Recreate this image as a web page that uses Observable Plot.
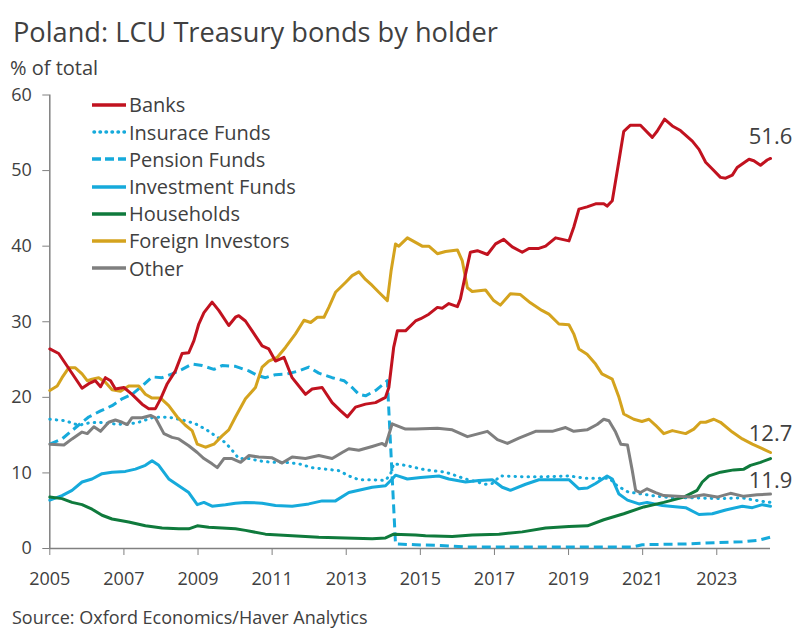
<!DOCTYPE html>
<html><head><meta charset="utf-8">
<script src="https://cdn.jsdelivr.net/npm/d3@7"></script>
<script src="https://cdn.jsdelivr.net/npm/@observablehq/plot@0.6"></script>
<style>
body{margin:0;background:#fff;font-family:"Open Sans",sans-serif;color:#404040}
#wrap{position:relative;width:800px;height:640px;overflow:hidden}
#title{position:absolute;left:13px;top:13.5px;font-size:27.2px;line-height:36px;white-space:nowrap}
#chart{position:absolute;left:0;top:58px}
#unit{position:absolute;left:10px;top:55px;font-size:20px;line-height:26px;white-space:nowrap}
#legend{position:absolute;left:92px;top:91.4px;font-size:20px}
#legend .row{display:flex;align-items:center;height:27.2px;white-space:nowrap}
#legend svg{display:block;margin-right:3px}
#src{position:absolute;left:12px;top:606px;font-size:18px;line-height:22px;white-space:nowrap}
</style></head>
<body><div id="wrap">
<div id="title">Poland: LCU Treasury bonds by holder</div>
<div id="chart"></div>
<div id="unit">% of total</div>
<div id="legend"></div>
<div id="src">Source: Oxford Economics/Haver Analytics</div>
</div>
<script>
const xTicks = [2005,2007,2009,2011,2013,2015,2017,2019,2021,2023];
const yTicks = [0,10,20,30,40,50,60];
const seriesNames = ["Banks","Insurace Funds","Pension Funds","Investment Funds","Households","Foreign Investors","Other"];

const banks = [[2005.00,26.4],[2005.24,25.8],[2005.87,21.2],[2006.05,21.8],[2006.23,22.2],[2006.37,21.4],[2006.50,22.6],[2006.64,22.2],[2006.77,21.1],[2007.00,21.3],[2007.22,20.4],[2007.49,19.1],[2007.67,18.5],[2007.85,18.5],[2007.99,19.8],[2008.17,21.8],[2008.39,23.5],[2008.57,25.8],[2008.75,25.9],[2008.89,27.5],[2009.02,29.7],[2009.16,31.2],[2009.38,32.6],[2009.56,31.5],[2009.83,29.5],[2010.01,30.6],[2010.10,30.8],[2010.28,30.1],[2010.46,28.8],[2010.73,26.8],[2010.91,26.4],[2011.09,24.8],[2011.32,25.3],[2011.54,22.6],[2011.90,20.4],[2012.08,21.1],[2012.35,21.3],[2012.62,19.3],[2012.85,18.2],[2013.03,17.4],[2013.25,18.7],[2013.52,19.1],[2013.79,19.3],[2014.06,20.0],[2014.15,21.3],[2014.28,26.6],[2014.38,28.8],[2014.60,28.8],[2014.87,30.1],[2015.01,30.4],[2015.23,31.0],[2015.46,31.9],[2015.59,31.8],[2015.77,32.4],[2016.00,32.0],[2016.08,33.0],[2016.22,36.3],[2016.35,39.2],[2016.54,39.4],[2016.81,38.9],[2017.03,40.3],[2017.25,40.9],[2017.48,39.9],[2017.75,39.2],[2017.93,39.7],[2018.20,39.7],[2018.38,40.0],[2018.65,41.1],[2019.01,40.7],[2019.14,42.5],[2019.28,44.9],[2019.50,45.2],[2019.73,45.6],[2019.95,45.6],[2020.04,45.3],[2020.18,46.0],[2020.36,51.3],[2020.49,55.2],[2020.67,56.0],[2020.94,56.0],[2021.26,54.4],[2021.39,55.2],[2021.59,56.8],[2021.80,55.9],[2022.02,55.3],[2022.34,53.9],[2022.52,52.8],[2022.70,51.1],[2022.88,50.2],[2023.10,49.1],[2023.24,49.0],[2023.42,49.4],[2023.55,50.4],[2023.87,51.5],[2024.00,51.3],[2024.18,50.7],[2024.36,51.4],[2024.45,51.6]];

const insurance = [[2005.00,17.1],[2005.42,16.9],[2005.78,16.3],[2006.05,16.6],[2006.32,16.7],[2006.68,16.5],[2007.04,16.4],[2007.40,16.7],[2007.76,17.3],[2008.03,17.4],[2008.30,17.3],[2008.66,16.9],[2008.93,16.5],[2009.20,15.8],[2009.47,14.9],[2009.74,14.0],[2009.92,13.0],[2010.10,11.9],[2010.37,11.9],[2010.64,11.6],[2011.00,11.4],[2011.36,11.4],[2011.72,11.2],[2012.08,10.7],[2012.44,10.5],[2012.80,10.3],[2013.07,9.6],[2013.34,9.1],[2013.70,9.1],[2014.06,9.0],[2014.20,9.9],[2014.28,11.2],[2014.60,11.0],[2015.14,10.4],[2015.68,10.1],[2016.22,9.2],[2016.76,8.5],[2016.94,8.6],[2017.16,9.6],[2017.75,9.5],[2018.38,9.5],[2019.01,9.6],[2019.46,9.3],[2020.10,9.3],[2020.31,8.3],[2020.60,7.5],[2020.85,7.3],[2021.26,7.0],[2021.80,6.7],[2022.43,6.7],[2023.06,6.6],[2023.69,6.7],[2024.14,6.3],[2024.45,6.1]];

const pension = [[2005.00,13.8],[2005.33,14.5],[2005.60,15.6],[2005.87,16.7],[2006.05,17.4],[2006.37,18.2],[2006.68,18.9],[2006.95,19.8],[2007.22,20.4],[2007.49,21.5],[2007.76,22.7],[2008.03,22.6],[2008.30,23.1],[2008.57,23.7],[2008.84,24.4],[2009.11,24.2],[2009.43,23.7],[2009.65,24.2],[2010.01,24.1],[2010.37,23.5],[2010.60,22.9],[2010.82,22.6],[2011.09,23.0],[2011.41,23.1],[2011.72,23.5],[2011.99,24.0],[2012.26,23.2],[2012.62,22.6],[2012.94,22.2],[2013.16,21.3],[2013.34,20.4],[2013.52,20.2],[2013.79,20.9],[2014.11,22.2],[2014.33,0.6],[2014.87,0.5],[2015.55,0.4],[2016.27,0.2],[2017.16,0.2],[2018.51,0.2],[2019.86,0.2],[2020.72,0.2],[2020.99,0.5],[2022.16,0.6],[2023.06,0.8],[2023.69,0.9],[2024.14,1.1],[2024.45,1.5]];

const investment = [[2005.00,6.4],[2005.33,7.0],[2005.60,7.7],[2005.87,8.8],[2006.14,9.2],[2006.41,9.9],[2006.68,10.1],[2007.04,10.2],[2007.31,10.5],[2007.58,11.0],[2007.76,11.6],[2007.94,11.0],[2008.21,9.2],[2008.48,8.3],[2008.75,7.4],[2008.98,5.8],[2009.16,6.1],[2009.38,5.6],[2009.74,5.8],[2010.01,6.0],[2010.28,6.1],[2010.73,6.0],[2011.09,5.7],[2011.54,5.6],[2011.99,5.9],[2012.35,6.3],[2012.71,6.3],[2013.07,7.4],[2013.34,7.7],[2013.70,8.1],[2014.06,8.3],[2014.24,9.2],[2014.33,9.7],[2014.65,9.2],[2015.01,9.4],[2015.50,9.6],[2015.77,9.2],[2016.22,8.8],[2016.58,9.0],[2016.94,9.1],[2017.21,8.1],[2017.43,7.7],[2017.84,8.5],[2018.20,9.1],[2018.65,9.1],[2019.01,9.1],[2019.28,7.9],[2019.51,8.0],[2019.73,8.6],[2020.04,9.6],[2020.18,9.2],[2020.36,7.2],[2020.59,6.4],[2020.90,5.9],[2021.12,6.1],[2021.53,5.7],[2022.16,5.4],[2022.52,4.5],[2022.88,4.6],[2023.24,5.1],[2023.69,5.6],[2023.96,5.4],[2024.23,5.8],[2024.45,5.6]];

const households = [[2005.00,6.8],[2005.33,6.6],[2005.60,6.1],[2005.87,5.8],[2006.14,5.2],[2006.41,4.4],[2006.68,3.9],[2007.13,3.5],[2007.58,3.0],[2008.03,2.7],[2008.48,2.6],[2008.75,2.6],[2008.98,3.0],[2009.29,2.8],[2009.65,2.7],[2010.01,2.6],[2010.28,2.4],[2010.82,1.9],[2011.54,1.7],[2012.26,1.5],[2012.98,1.4],[2013.70,1.3],[2014.06,1.4],[2014.28,1.9],[2014.87,1.8],[2015.14,1.7],[2015.86,1.6],[2016.40,1.8],[2017.12,1.9],[2017.75,2.2],[2018.38,2.7],[2019.01,2.9],[2019.51,3.0],[2019.95,3.8],[2020.49,4.6],[2021.03,5.5],[2021.57,6.1],[2022.11,6.8],[2022.47,7.7],[2022.61,8.8],[2022.79,9.6],[2023.10,10.1],[2023.46,10.4],[2023.73,10.5],[2023.91,11.0],[2024.18,11.4],[2024.45,11.9]];

const foreign = [[2005.00,20.9],[2005.20,21.5],[2005.33,22.6],[2005.51,23.9],[2005.69,23.9],[2005.87,23.1],[2006.01,22.2],[2006.14,22.4],[2006.32,22.6],[2006.50,22.0],[2006.68,21.0],[2006.91,20.8],[2007.13,21.5],[2007.40,21.5],[2007.58,20.4],[2007.76,19.9],[2007.99,19.9],[2008.21,18.9],[2008.44,17.4],[2008.66,16.3],[2008.84,15.6],[2008.98,13.8],[2009.20,13.4],[2009.43,13.8],[2009.65,14.9],[2009.83,15.7],[2010.01,17.4],[2010.28,19.8],[2010.55,21.3],[2010.73,24.0],[2010.91,24.8],[2011.14,25.3],[2011.36,26.6],[2011.63,28.4],[2011.86,30.2],[2012.04,29.9],[2012.22,30.6],[2012.40,30.6],[2012.53,31.9],[2012.71,33.9],[2012.98,35.2],[2013.16,36.1],[2013.34,36.6],[2013.52,35.6],[2013.70,34.8],[2013.88,33.9],[2014.11,32.8],[2014.21,36.7],[2014.33,40.3],[2014.42,40.0],[2014.65,41.1],[2014.87,40.5],[2015.05,40.0],[2015.23,40.0],[2015.46,39.0],[2015.68,39.3],[2016.00,39.5],[2016.13,38.1],[2016.27,34.5],[2016.40,34.0],[2016.76,34.2],[2016.98,32.8],[2017.16,32.2],[2017.43,33.7],[2017.70,33.6],[2017.97,32.5],[2018.28,31.5],[2018.47,31.0],[2018.74,29.7],[2019.01,29.6],[2019.14,28.4],[2019.28,26.4],[2019.50,25.7],[2019.73,24.4],[2019.90,23.1],[2020.18,22.4],[2020.36,20.0],[2020.49,17.8],[2020.76,17.1],[2020.98,16.8],[2021.17,17.1],[2021.35,16.3],[2021.57,15.2],[2021.80,15.6],[2022.16,15.2],[2022.38,15.8],[2022.56,16.7],[2022.70,16.7],[2022.92,17.1],[2023.10,16.7],[2023.42,15.4],[2023.69,14.5],[2023.96,13.8],[2024.23,13.2],[2024.45,12.7]];

const other = [[2005.00,13.8],[2005.38,13.7],[2005.60,14.5],[2005.87,15.4],[2006.01,15.2],[2006.19,16.1],[2006.37,15.5],[2006.59,16.7],[2006.77,17.0],[2006.95,16.7],[2007.09,16.4],[2007.22,17.3],[2007.49,17.3],[2007.72,17.6],[2007.85,17.3],[2008.08,15.2],[2008.30,14.7],[2008.48,14.5],[2008.75,13.6],[2008.98,12.7],[2009.16,11.9],[2009.38,11.2],[2009.52,10.7],[2009.70,11.9],[2009.92,11.9],[2010.15,11.4],[2010.37,12.3],[2010.64,12.1],[2011.00,12.0],[2011.27,11.3],[2011.54,12.1],[2011.90,11.9],[2012.26,12.3],[2012.62,11.9],[2012.89,12.7],[2013.07,13.2],[2013.34,13.0],[2013.70,13.5],[2013.97,13.9],[2014.06,13.6],[2014.24,16.5],[2014.60,15.8],[2014.87,15.8],[2015.46,15.9],[2015.86,15.7],[2016.27,14.8],[2016.81,15.5],[2017.08,14.4],[2017.35,13.9],[2017.66,14.6],[2018.11,15.5],[2018.56,15.5],[2018.92,16.0],[2019.14,15.5],[2019.50,15.7],[2019.77,16.4],[2019.95,17.1],[2020.09,16.9],[2020.27,15.4],[2020.41,13.8],[2020.59,13.7],[2020.72,10.3],[2020.81,7.7],[2020.94,7.4],[2021.12,7.9],[2021.35,7.4],[2021.57,7.0],[2021.93,6.9],[2022.29,6.8],[2022.65,7.1],[2023.01,6.8],[2023.37,7.3],[2023.73,6.9],[2024.09,7.1],[2024.45,7.2]];

const BLUE = "#16AADB";
const styles = [
  {name: seriesNames[2], data: pension, stroke: BLUE, dash: "9,5", cap: "butt"},
  {name: seriesNames[1], data: insurance, stroke: BLUE, dash: "0.5,6", cap: "round"},
  {name: seriesNames[3], data: investment, stroke: BLUE, dash: null, cap: "round"},
  {name: seriesNames[4], data: households, stroke: "#0F7A3C", dash: null, cap: "round"},
  {name: seriesNames[6], data: other, stroke: "#7F7F7F", dash: null, cap: "round"},
  {name: seriesNames[5], data: foreign, stroke: "#D4A31E", dash: null, cap: "round"},
  {name: seriesNames[0], data: banks, stroke: "#C1121F", dash: null, cap: "round"}
];

const lineMarks = styles.map(s => Plot.line(s.data.map(([year, value]) => ({year, value})), {
  x: "year", y: "value", stroke: s.stroke, strokeWidth: 3,
  strokeDasharray: s.dash || undefined, strokeLinecap: s.cap, strokeLinejoin: "round"
}));

const endLabels = [
  {data: banks, dy: -22},
  {data: foreign, dy: -19},
  {data: households, dy: 22}
];
const labelMarks = endLabels.map(l => {
  const [year, value] = l.data[l.data.length - 1];
  return Plot.text([{year, value}], {x: "year", y: "value", text: d => d.value.toFixed(1),
    dy: l.dy, fontSize: 22, fill: "#404040", textAnchor: "middle"});
});

const chart = Plot.plot({
  width: 800, height: 540,
  marginTop: 36.5, marginBottom: 50, marginLeft: 49.3, marginRight: 30,
  style: {fontFamily: "Open Sans, sans-serif", fontSize: "18px", color: "#404040", background: "transparent", overflow: "visible"},
  x: {domain: [2005, 2024.45]},
  y: {domain: [0, 60]},
  marks: [
    Plot.axisX({ticks: xTicks, tickFormat: d => String(d), tickSize: 7, tickPadding: 17, stroke: "#808080", fill: "#404040", label: null, fontSize: 18}),
    Plot.axisY({ticks: yTicks, tickSize: 7, tickPadding: 11, stroke: "#808080", fill: "#404040", label: null, fontSize: 18}),
    Plot.ruleY([0], {stroke: "#808080", strokeWidth: 1.5}),
    Plot.ruleX([2005], {y1: 0, y2: 60, stroke: "#808080", strokeWidth: 1.5}),
    ...lineMarks,
    ...labelMarks
  ]
});
document.getElementById("chart").append(chart);

// legend (HTML overlay)
const legendStyle = {
  "Banks": {stroke: "#C1121F", dash: null, cap: "butt"},
  "Insurace Funds": {stroke: BLUE, dash: "0.5,5.5", cap: "round"},
  "Pension Funds": {stroke: BLUE, dash: "9,4", cap: "butt"},
  "Investment Funds": {stroke: BLUE, dash: null, cap: "butt"},
  "Households": {stroke: "#0F7A3C", dash: null, cap: "butt"},
  "Foreign Investors": {stroke: "#D4A31E", dash: null, cap: "butt"},
  "Other": {stroke: "#7F7F7F", dash: null, cap: "butt"}
};
const legend = document.getElementById("legend");
seriesNames.forEach(name => {
  const st = legendStyle[name];
  const row = document.createElement("div");
  row.className = "row";
  row.innerHTML = `<svg width="34" height="10"><line x1="${st.cap === 'round' ? 2 : 0}" y1="5" x2="34" y2="5" stroke="${st.stroke}" stroke-width="3.5" ${st.dash ? `stroke-dasharray="${st.dash}"` : ""} stroke-linecap="${st.cap}"/></svg><span>${name}</span>`;
  legend.append(row);
});
</script>
</body></html>
